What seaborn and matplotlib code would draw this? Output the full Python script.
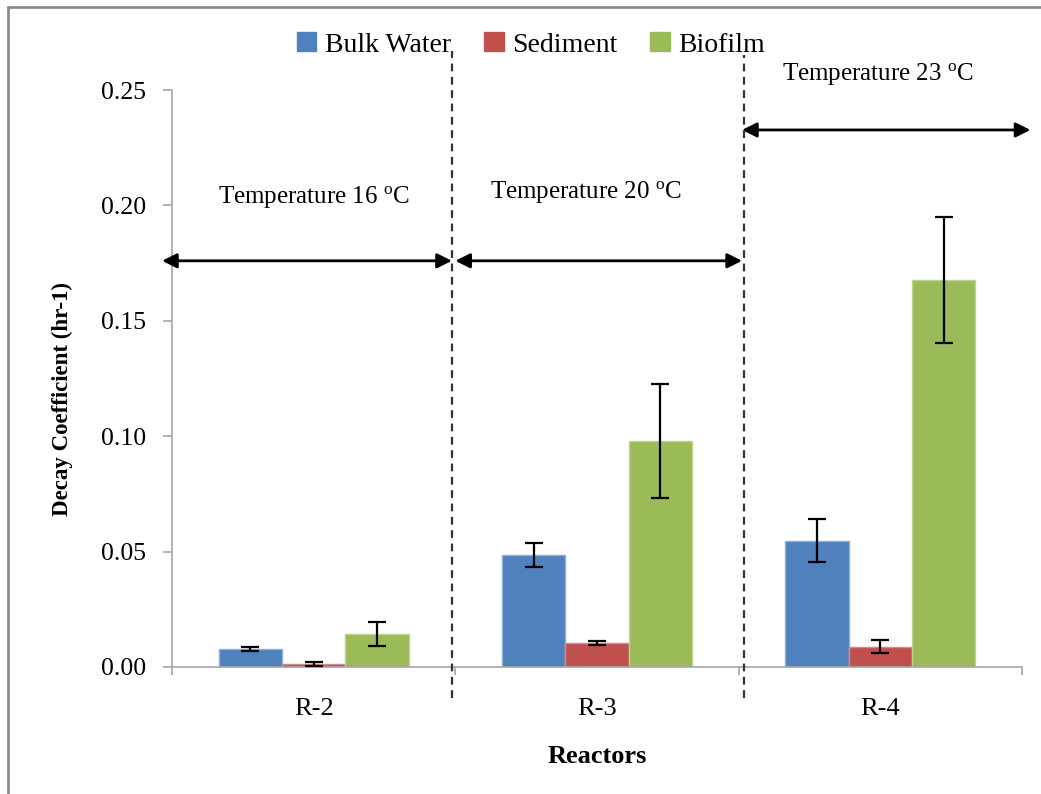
import matplotlib
matplotlib.use("Agg")
import numpy as np
import pandas as pd
import seaborn as sns
import matplotlib.pyplot as plt
from matplotlib.lines import Line2D
from matplotlib.ticker import FormatStrFormatter, FixedLocator

# Data
reactors = ["R-2", "R-3", "R-4"]
series = ["Bulk Water", "Sediment", "Biofilm"]
bulk_water = [0.0078, 0.0485, 0.0546]
sediment = [0.0012, 0.0104, 0.0088]
biofilm = [0.0143, 0.0980, 0.1677]
bulk_water_err = [0.0008, 0.0052, 0.0093]
sediment_err = [0.0010, 0.0008, 0.0028]
biofilm_err = [0.0052, 0.0247, 0.0273]
temperatures = ["16", "20", "23"]

colors = ["#4F81BD", "#C0504D", "#9BBB59"]
edge_colors = ["#8CAEDB", "#D98A88", "#BCD48E"]

df = pd.DataFrame({
    "Reactor": reactors * 3,
    "Type": [s for s in series for _ in reactors],
    "Value": bulk_water + sediment + biofilm,
})
errs = [bulk_water_err, sediment_err, biofilm_err]

sns.set_style("white")
plt.rcParams["font.family"] = ["Liberation Serif", "DejaVu Serif"]
plt.rcParams["text.color"] = "black"
plt.rcParams["axes.labelcolor"] = "black"
plt.rcParams["xtick.color"] = "black"
plt.rcParams["ytick.color"] = "black"
plt.rcParams["mathtext.fontset"] = "custom"
plt.rcParams["mathtext.rm"] = "Liberation Serif"
plt.rcParams["mathtext.it"] = "Liberation Serif:italic"

fig = plt.figure(figsize=(10.41, 7.94), dpi=100)
ax = fig.add_axes([0.1652, 0.160, 0.8165, 0.7266])

sns.barplot(data=df, x="Reactor", y="Value", hue="Type", palette=colors,
            width=0.67, errorbar=None, ax=ax, saturation=1, legend=False)

# error bars on top of each bar
for cont, ec, err in zip(ax.containers, edge_colors, errs):
    xs, hs = [], []
    for bar in cont:
        bar.set_edgecolor(ec)
        bar.set_linewidth(1)
        xs.append(bar.get_x() + bar.get_width() / 2)
        hs.append(bar.get_height())
    ax.errorbar(xs, hs, yerr=err, fmt="none", ecolor="black",
                elinewidth=1.6, capsize=6.5, capthick=1.6, zorder=5)

ax.set_xlim(-0.5, 2.5)
ax.set_ylim(0, 0.25)
ax.set_yticks(np.arange(0, 0.26, 0.05))
ax.yaxis.set_major_formatter(FormatStrFormatter("%.2f"))
ax.xaxis.set_minor_locator(FixedLocator([-0.5, 0.5, 1.5, 2.5]))

for side in ["top", "right"]:
    ax.spines[side].set_visible(False)
for side in ["left", "bottom"]:
    ax.spines[side].set_color("#A6A6A6")
    ax.spines[side].set_linewidth(1.2)

ax.tick_params(axis="y", which="major", direction="out", length=6.5,
               width=1.2, color="#A6A6A6", labelcolor="black", labelsize=18.5,
               pad=12, left=True)
ax.tick_params(axis="x", which="major", length=0, labelsize=19,
               labelcolor="black", pad=22)
ax.tick_params(axis="x", which="minor", direction="out", length=6,
               width=1.2, color="#A6A6A6", bottom=True)

ax.set_xlabel("Reactors", fontsize=19, fontweight="bold", labelpad=18)
ax.set_ylabel("Decay Coefficient (hr-1)", fontsize=16.5, fontweight="bold")
ax.yaxis.set_label_coords(-0.116, 0.465)

# region separators
for xd, ytop in [(0.49, 0.267), (1.52, 0.265)]:
    ax.plot([xd, xd], [-0.0134, ytop], color="#333333", lw=1.6,
            ls=(0, (3.5, 2.5)), clip_on=False, zorder=6)

# temperature arrows
arrows = [(-0.535, 0.488, 0.176), (0.500, 1.512, 0.176), (1.512, 2.53, 0.2327)]
for x0, x1, y in arrows:
    ax.annotate("", xy=(x1, y), xytext=(x0, y), annotation_clip=False,
                arrowprops=dict(arrowstyle="<|-|>", color="black", lw=2,
                                mutation_scale=22, shrinkA=0, shrinkB=0))

label_pos = [(0.0, 0.2036), (0.961, 0.206), (1.992, 0.257)]
for t, (xt, yt) in zip(temperatures, label_pos):
    ax.text(xt, yt, "Temperature " + t + r" $^{\mathrm{o}}$C", fontsize=18,
            ha="center", va="center", clip_on=False)

handles = [plt.Rectangle((0, 0), 1, 1, color=c) for c in colors]
fig.legend(handles, series, loc="center", bbox_to_anchor=(0.51, 1 - 45 / 794),
           ncol=3, frameon=False, fontsize=20, handlelength=0.7,
           handleheight=0.65, handletextpad=0.3, columnspacing=1.2)

# outer chart frame (left and top edges visible)
fig.add_artist(Line2D([8 / 1041, 8 / 1041], [0, 1 - 7 / 794],
                      transform=fig.transFigure, color="#8C8C8C", lw=2))
fig.add_artist(Line2D([8 / 1041, 1], [1 - 7 / 794, 1 - 7 / 794],
                      transform=fig.transFigure, color="#8C8C8C", lw=2))

fig.savefig("out.png", dpi=100, facecolor="white")
